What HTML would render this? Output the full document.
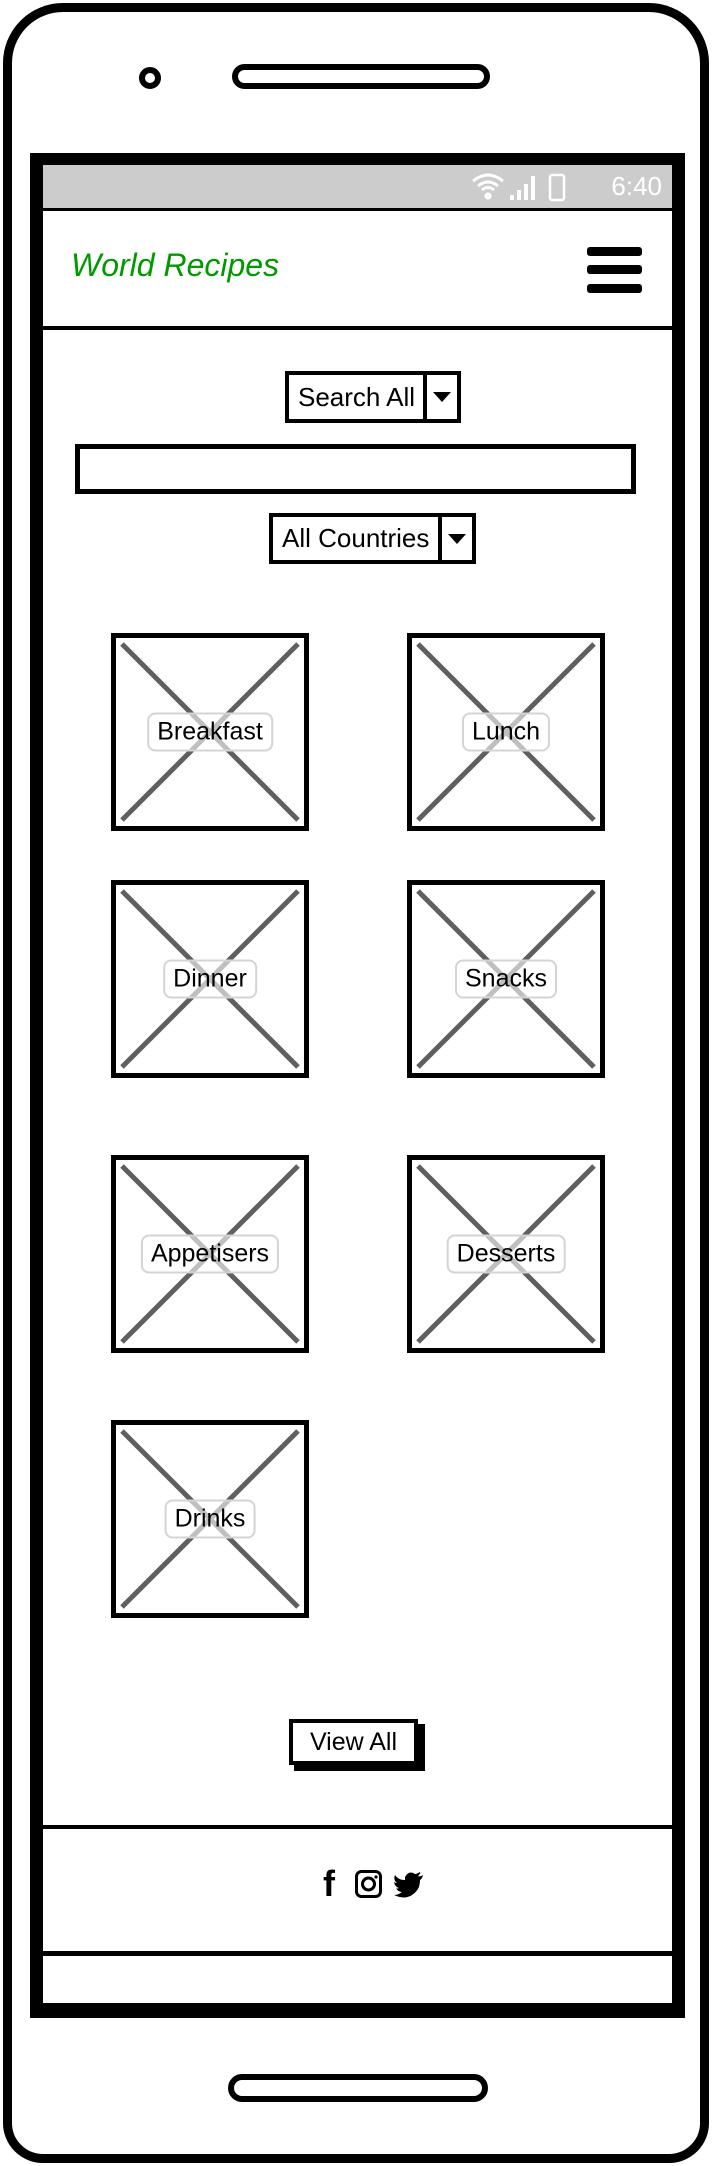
<!DOCTYPE html>
<html><head><meta charset="utf-8"><style>
*{box-sizing:border-box;margin:0;padding:0}
body{width:712px;height:2166px;background:#fff;position:relative;overflow:hidden;font-family:"Liberation Sans",sans-serif}
.a{position:absolute}
.tile{position:absolute;width:198px;height:198px;border:5px solid #000;background:#fff}
.tile svg{position:absolute;left:0;top:0}
.lbl{position:absolute;left:50%;top:50%;transform:translate(-50%,-50%);border:2px solid #d4d4d4;border-radius:8px;padding:3px 8px;font-size:25px;color:#000;white-space:nowrap;background:rgba(255,255,255,0.6)}
.dd{position:absolute;border:4px solid #000;font-size:26px;display:flex;align-items:center}
.dd .t{padding-left:9px;flex:1}
.dd .arr{width:34px;height:100%;border-left:4px solid #000;display:flex;align-items:center;justify-content:center}
.dd .arr i{width:0;height:0;border-left:9px solid transparent;border-right:9px solid transparent;border-top:10px solid #000}
</style></head><body>
<div class="a" style="left:3px;top:3px;width:706px;height:2160px;border:9px solid #000;border-radius:60px 60px 40px 40px"></div>
<div class="a" style="left:139px;top:67px;width:22px;height:22px;border:6px solid #000;border-radius:50%"></div>
<div class="a" style="left:232px;top:64px;width:258px;height:25px;border:6px solid #000;border-radius:14px"></div>
<div class="a" style="left:30px;top:153px;width:655px;height:1865px;border:13px solid #000;border-top-width:12px;border-bottom-width:15px"></div>
<div class="a" style="left:43px;top:165px;width:629px;height:43px;background:#cccccc;color:#fff;font-size:26px;text-align:right;padding:6px 10px 0 0">
<svg width="120" height="30" style="position:absolute;right:82px;top:7px"><path d="M18 22 a2 2 0 1 0 .1 0 M8 14 q10-8 20 0 M3 9 q15-12 30 0 M12 18 q6-5 12 0" stroke="#fff" stroke-width="3" fill="none"/><rect x="40" y="23" width="4" height="5" fill="#fff"/><rect x="47" y="18" width="4" height="10" fill="#fff"/><rect x="54" y="12" width="4" height="16" fill="#fff"/><rect x="61" y="4" width="4" height="24" fill="#fff"/><rect x="80" y="3" width="14" height="25" rx="2" stroke="#fff" stroke-width="2.5" fill="none"/></svg>
<span>6:40</span></div>
<div class="a" style="left:43px;top:208px;width:629px;height:122px;border-top:3px solid #000;border-bottom:4px solid #000"></div>
<div class="a" style="left:71px;top:247px;font-size:32px;font-style:italic;color:#009a00">World Recipes</div>
<div class="a" style="left:587px;top:247px;width:55px;height:46px">
<div style="height:9px;background:#000;border-radius:3px"></div><div style="height:9px;background:#000;border-radius:3px;margin-top:9px"></div><div style="height:9px;background:#000;border-radius:3px;margin-top:10px"></div></div>
<div class="dd" style="left:285px;top:371px;width:176px;height:52px"><span class="t">Search All</span><span class="arr"><i></i></span></div>
<div class="a" style="left:75px;top:444px;width:561px;height:50px;border:5px solid #000"></div>
<div class="dd" style="left:269px;top:513px;width:207px;height:51px"><span class="t">All Countries</span><span class="arr"><i></i></span></div>
<div id="tiles"></div>
<div class="a" style="left:294px;top:1724px;width:131px;height:47px;background:#000"></div>
<div class="a" style="left:289px;top:1719px;width:129px;height:46px;border:4px solid #000;background:#fff;font-size:25px;text-align:center;line-height:38px">View All</div>
<div class="a" style="left:43px;top:1825px;width:629px;height:131px;border-top:4px solid #000;border-bottom:5px solid #000"></div>
<div class="a" style="left:323px;top:1864px;font-size:36px;font-weight:bold;line-height:40px">f</div>
<svg class="a" style="left:355px;top:1870px" width="27" height="28"><rect x="1.5" y="1.5" width="24" height="25" rx="5" stroke="#000" stroke-width="3" fill="none"/><circle cx="13.5" cy="14" r="6" stroke="#000" stroke-width="3" fill="none"/><circle cx="21" cy="7" r="1.6" fill="#000"/></svg>
<svg class="a" style="left:394px;top:1872px" width="30" height="26"><path d="M29 3 q-3 2-5 1 q3-3 2-4 q-3 2-5 2 q-6-4-10 3 q0 2 0 3 q-7 0-10-5 q-2 5 2 8 q-2 0-3-1 q1 5 5 6 q-2 1-3 0 q2 4 6 4 q-4 3-8 3 q15 7 24-6 q2-4 2-9 q2-1 3-5z" fill="#000"/></svg>
<div class="a" style="left:228px;top:2074px;width:260px;height:28px;border:6px solid #000;border-radius:15px"></div>
<script>
const categories=["Breakfast","Lunch","Dinner","Snacks","Appetisers","Desserts","Drinks"];
const tileLeft=[111,407];
const tileTop=[633,880,1155,1420];
const host=document.getElementById('tiles');
categories.forEach((c,i)=>{
 const t=document.createElement('div');
 t.className='tile';
 
 
 t.style.left=tileLeft[i%2]+'px';
 t.style.top=tileTop[Math.floor(i/2)]+'px';
 t.innerHTML='<svg width="188" height="188"><path d="M6 6 L182 182 M182 6 L6 182" stroke="#5f5f5f" stroke-width="5"/></svg>';
 const l=document.createElement('div');
 l.className='lbl';
 
 
 l.textContent=c;
 t.appendChild(l);
 host.appendChild(t);
});
</script>
</body></html>
